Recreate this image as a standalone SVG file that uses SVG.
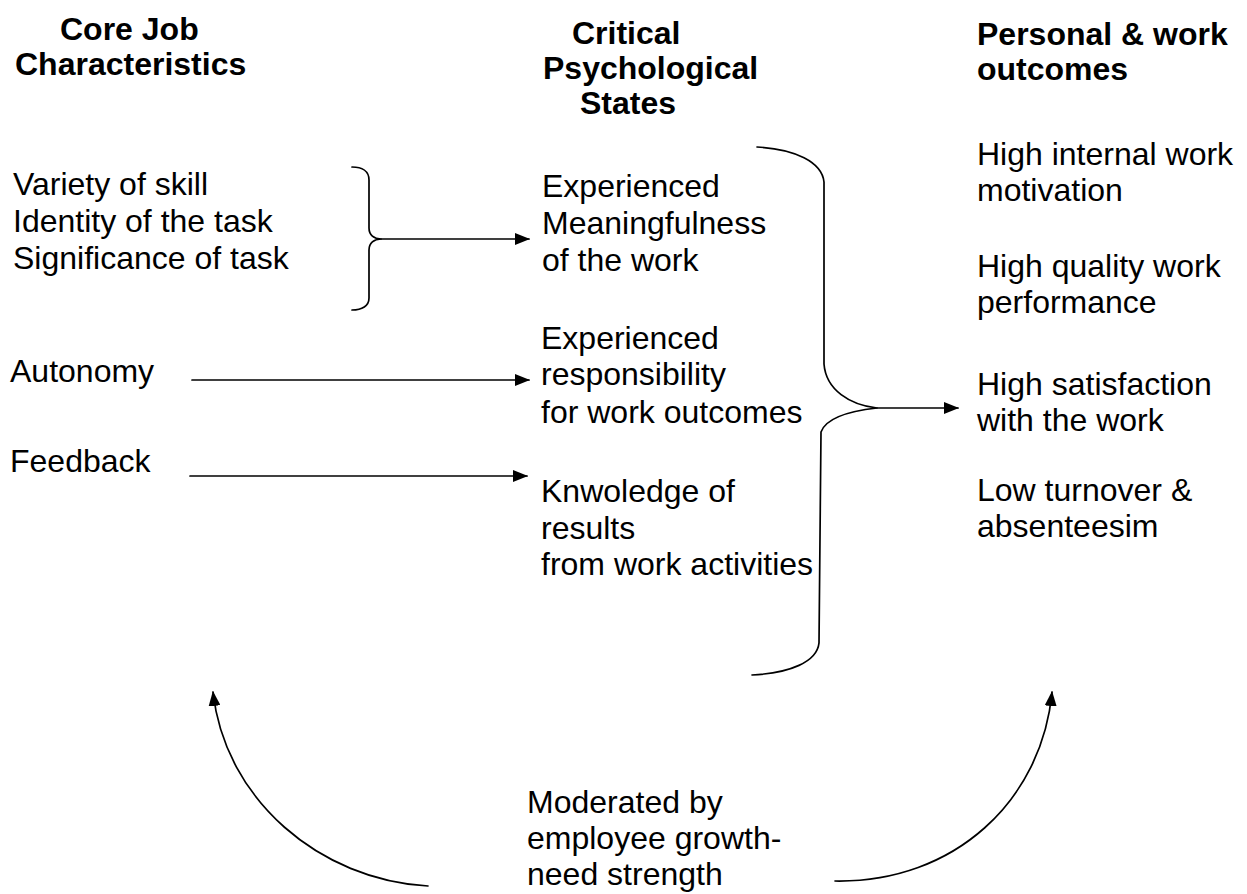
<svg xmlns="http://www.w3.org/2000/svg" width="1247" height="894" viewBox="0 0 1247 894">
  <defs>
    <style>
      text { font-family: "Liberation Sans", Arial, sans-serif; font-size: 32px; fill: #000; }
      .hd { font-weight: bold; }
      .ln { fill: none; stroke: #000; stroke-width: 1.7; stroke-linecap: round; stroke-linejoin: round; }
    </style>
    <marker id="arrow" viewBox="0 0 15 12" refX="14" refY="6" markerWidth="15" markerHeight="12" markerUnits="userSpaceOnUse" orient="auto">
      <path d="M0,0 L15,6 L0,12 Z" fill="#000"/>
    </marker>
  </defs>
  <rect width="1247" height="894" fill="#fff"/>

  <!-- column headings -->
  <g id="head-core">
    <text class="hd" x="60" y="40">Core Job</text>
    <text class="hd" x="15" y="75">Characteristics</text>
  </g>
  <g id="head-states">
    <text class="hd" x="572" y="44">Critical</text>
    <text class="hd" x="543" y="79">Psychological</text>
    <text class="hd" x="580" y="114">States</text>
  </g>
  <g id="head-outcomes">
    <text class="hd" x="977" y="45">Personal &amp; work</text>
    <text class="hd" x="977" y="80">outcomes</text>
  </g>

  <!-- core job characteristics -->
  <g id="core-skill">
    <text x="13" y="195">Variety of skill</text>
    <text x="13" y="232">Identity of the task</text>
    <text x="13" y="269">Significance of task</text>
  </g>
  <g id="core-autonomy">
    <text x="10" y="382">Autonomy</text>
  </g>
  <g id="core-feedback">
    <text x="10" y="472">Feedback</text>
  </g>

  <!-- critical psychological states -->
  <g id="state-meaning">
    <text x="542" y="197">Experienced</text>
    <text x="542" y="234">Meaningfulness</text>
    <text x="542" y="271">of the work</text>
  </g>
  <g id="state-responsibility">
    <text x="541" y="349">Experienced</text>
    <text x="541" y="385">responsibility</text>
    <text x="541" y="423">for work outcomes</text>
  </g>
  <g id="state-knowledge">
    <text x="541" y="502">Knwoledge of</text>
    <text x="541" y="539">results</text>
    <text x="541" y="575">from work activities</text>
  </g>

  <!-- personal and work outcomes -->
  <g id="out-motivation">
    <text x="977" y="165">High internal work</text>
    <text x="977" y="201">motivation</text>
  </g>
  <g id="out-quality">
    <text x="977" y="277">High quality work</text>
    <text x="977" y="313">performance</text>
  </g>
  <g id="out-satisfaction">
    <text x="977" y="395">High satisfaction</text>
    <text x="977" y="431">with the work</text>
  </g>
  <g id="out-turnover">
    <text x="977" y="501">Low  turnover &amp;</text>
    <text x="977" y="537">absenteesim</text>
  </g>

  <!-- moderator -->
  <g id="moderator">
    <text x="527" y="813">Moderated by</text>
    <text x="527" y="849">employee growth-</text>
    <text x="527" y="885">need strength</text>
  </g>

  <g id="connectors">
    <!-- brace joining the three skill characteristics -->
    <path class="ln" d="M352,167 C362,167 369,171 369,180 L369,228 C369,235 374,239 381,239 C374,239 369,243 369,250 L369,298 C369,306 362,310 352,310"/>
    <path class="ln" d="M381,239 L529,239" marker-end="url(#arrow)"/>
    <path class="ln" d="M192,380 L529,380" marker-end="url(#arrow)"/>
    <path class="ln" d="M190,476 L527,476" marker-end="url(#arrow)"/>
    <!-- brace gathering the three psychological states -->
    <path class="ln" d="M757,147 C795,149 822,162 824,182 L824,364 C826,390 850,405 877,408 C850,411 826,418 821,432 L819,643 C817,662 790,673 752,675"/>
    <path class="ln" d="M877,408 L958,408" marker-end="url(#arrow)"/>
    <!-- moderating arcs -->
    <path class="ln" d="M428,886 C320,880 225,800 213,692" marker-end="url(#arrow)"/>
    <path class="ln" d="M835,881 C955,883 1042,800 1052,692" marker-end="url(#arrow)"/>
  </g>
</svg>
